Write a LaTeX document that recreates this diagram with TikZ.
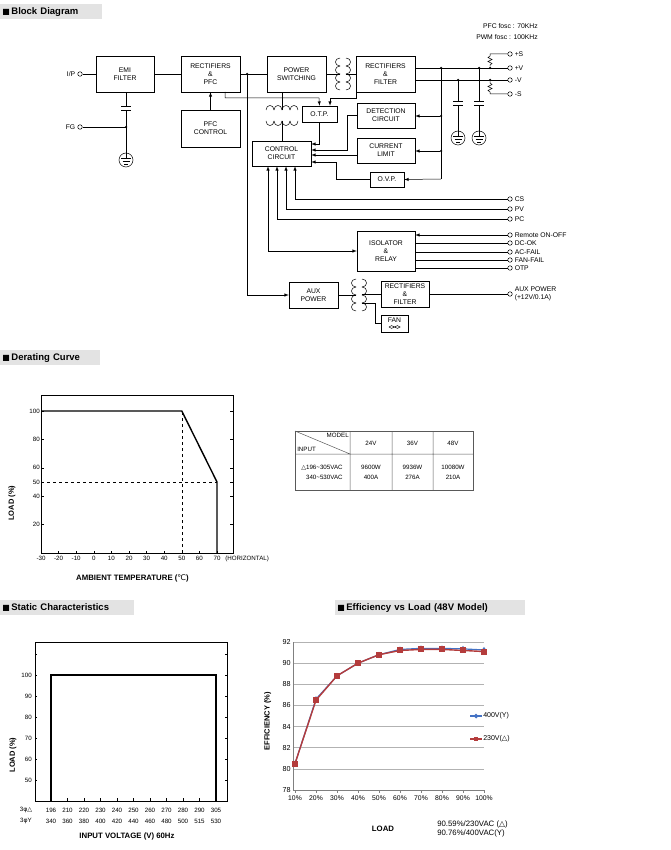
\documentclass[tikz,border=0pt]{standalone}
\usepackage{fontspec}
\setmainfont{Liberation Sans}
\newfontfamily\symf{DejaVu Sans}
\usepackage{tikz}
\usetikzlibrary{positioning, shapes.geometric, plotmarks}
\definecolor{effblue}{RGB}{68,114,196}
\definecolor{effred}{RGB}{180,60,60}

% coils of a transformer: x, y, number of turns, side
\newcommand\coilv[4]{\foreach \k in {1,...,#3}{\draw (#1,#2+8*\k-8) .. controls +(#4*6,0) and +(#4*6,0) .. (#1,#2+8*\k);}}
\newcommand\coilh[4]{\foreach \k in {1,...,#3}{\draw (#1+8*\k-8,#2) .. controls +(0,#4*6) and +(0,#4*6) .. (#1+8*\k,#2);}}
% earth in a circle
\newcommand\earth[2]{\draw (#1,#2) circle (7pt); \draw (#1,#2-7) -- (#1,#2-2) (#1-5,#2-2) -- (#1+5,#2-2) (#1-3.5,#2+1) -- (#1+3.5,#2+1) (#1-2,#2+4) -- (#1+2,#2+4);}
% capacitor on a vertical wire
\newcommand\capv[2]{\draw[fill=white,draw=white] (#1-5,#2-2) rectangle (#1+5,#2+2); \draw (#1-5,#2-2) -- (#1+5,#2-2) (#1-5,#2+2) -- (#1+5,#2+2);}

\begin{document}
\begin{tikzpicture}[x=1pt, y=-1pt, line width = 0.5pt, >=latex,
                    blk/.style = {draw, align = center, inner sep = 0pt, font = \fontsize{6.8}{8}\selectfont},
                    term/.style = {circle, draw, fill = white, inner sep = 0pt, minimum size = 4.5pt},
                    jdot/.style = {circle, fill = black, inner sep = 0pt, minimum size = 2.5pt},
                    lbl/.style = {font = \fontsize{6.8}{7.8}\selectfont, inner sep = 1pt},
                    tick/.style = {font = \fontsize{6.2}{7}\selectfont, inner sep = 1pt},
                    hdr/.style = {fill = gray!22, anchor = north west, inner sep = 1.5pt, font = \fontsize{9.5}{11}\selectfont\bfseries, minimum height = 15pt}]
  \useasboundingbox (0,0) rectangle (670,850);

  % headers
  \node [hdr, minimum width = 102pt, text width = 98pt] (hBlock) at (0,4) {{\symf\fontsize{8}{9}\selectfont ■}\,Block Diagram};
  \node [hdr, minimum width = 100pt, text width = 96pt] (hDerate) at (0,350) {{\symf\fontsize{8}{9}\selectfont ■}\,Derating Curve};
  \node [hdr, minimum width = 134pt, text width = 130pt] (hStatic) at (0,600) {{\symf\fontsize{8}{9}\selectfont ■}\,Static Characteristics};
  \node [hdr, minimum width = 190pt, text width = 186pt] (hEff) at (335,600) {{\symf\fontsize{8}{9}\selectfont ■}\,Efficiency vs Load (48V Model)};

  % ---------------- block diagram ----------------
  \node [lbl, anchor = east] (fosc1) at (539,26) {PFC fosc : 70KHz};
  \node [lbl, anchor = east] (fosc2) at (539,37) {PWM fosc : 100KHz};

  \node [blk, minimum width = 58pt, minimum height = 36pt] (emi) at (125,74) {EMI\\FILTER};
  \node [blk, minimum width = 59pt, minimum height = 36pt] (rpfc) at (210.5,74) {RECTIFIERS\\\&\\PFC};
  \node [blk, minimum width = 59pt, minimum height = 37pt] (pfcc) at (210.5,128.5) {PFC\\CONTROL};
  \node [blk, minimum width = 59pt, minimum height = 36pt] (psw) at (296.5,74) {POWER\\SWITCHING};
  \node [blk, minimum width = 59pt, minimum height = 36pt] (rf1) at (385.5,74) {RECTIFIERS\\\&\\FILTER};
  \node [blk, minimum width = 35pt, minimum height = 16pt] (otp) at (319.5,114) {O.T.P.};
  \node [blk, minimum width = 58pt, minimum height = 25pt] (det) at (386,115.5) {DETECTION\\CIRCUIT};
  \node [blk, minimum width = 59pt, minimum height = 25pt] (ctrl) at (281.5,153.5) {CONTROL\\CIRCUIT};
  \node [blk, minimum width = 58pt, minimum height = 25pt] (clim) at (386,150.5) {CURRENT\\LIMIT};
  \node [blk, minimum width = 34pt, minimum height = 15pt] (ovp) at (387,179.5) {O.V.P.};
  \node [blk, minimum width = 58pt, minimum height = 40pt] (iso) at (386,251) {ISOLATOR\\\&\\RELAY};
  \node [blk, minimum width = 49pt, minimum height = 26pt] (aux) at (313.5,295) {AUX\\POWER};
  \node [blk, minimum width = 48pt, minimum height = 26pt] (rf2) at (405,294) {RECTIFIERS\\\&\\FILTER};
  \node [blk, minimum width = 27pt, minimum height = 17pt, text depth = 7pt] (fan) at (394.5,323.5) {FAN};
  \draw (389,327) .. controls (392,322) and (397,332) .. (400,327) .. controls (397,322) and (392,332) .. (389,327);

  % terminals
  \node [term] (tIP) at (80,74) {};
  \node [lbl, left = 1pt of tIP] {I/P};
  \node [term] (tFG) at (80,127) {};
  \node [lbl, left = 1pt of tFG] {FG};
  \foreach \nm/\yy/\tx in {tSp/54/+S, tVp/68/+V, tVm/80/-V, tSm/94/-S,
                           tCS/199/CS, tPV/209/PV, tPC/219/PC,
                           tRem/235/Remote ON-OFF, tDC/243/DC-OK, tAC/252/AC-FAIL, tFan/260/FAN-FAIL, tOTP/268/OTP}
    {\node [term] (\nm) at (510,\yy) {};
     \node [lbl, right = 1pt of \nm] {\tx};}
  \node [term] (tAux) at (510,294) {};
  \node [lbl, right = 1pt of tAux, align = left] {AUX POWER\\(+12V/0.1A)};

  % input side
  \draw (tIP) -- (emi);
  \draw (emi) -- (rpfc);
  \node [jdot] (jIn) at (247,74) {};
  \draw (rpfc) -- (psw);
  \draw [<-] (rpfc) -- (pfcc);
  \coordinate (cEmi) at (126,127);
  \node [jdot] at (cEmi) {};
  \draw (emi.south -| cEmi) -- (cEmi) -- (tFG);
  \capv{126}{108}
  \draw (cEmi) -- (126,153);
  \earth{126}{160}

  % power stage
  \draw (psw.east) -- (340,74);
  \coilv{340}{58}{4}{-1}
  \coilv{346}{58}{4}{1}
  \draw (346,74) -- (rf1.west);
  \coilh{266}{110}{4}{-1}
  \coilh{266}{121}{4}{1}
  \draw (psw.south -| 282,0) -- (282,110);
  \draw (282,121) -- (ctrl.north -| 282,0);

  % outputs
  \draw (rf1.east |- tVp) -- (tVp);
  \draw (rf1.east |- tVm) -- (tVm);
  \node [jdot] (jBusT) at (441,68) {};
  \node [jdot] (jDet) at (441,116) {};
  \node [jdot] (jLim) at (441,151) {};
  \coordinate (cBusB) at (441,179);
  \draw (jBusT) -- (cBusB);
  \node [jdot] (jC1) at (458,80) {};
  \node [jdot] (jC2) at (479,68) {};
  \draw (jC1) -- (458,131);
  \draw (jC2) -- (479,131);
  \capv{458}{103}
  \capv{479}{103}
  \earth{458}{138}
  \earth{479}{138}
  \node [jdot] (jSp) at (490,68) {};
  \node [jdot] (jSm) at (490,80) {};
  \draw (tSp) -| (490,56) -- (488,57.5) -- (492,59.5) -- (488,61.5) -- (492,63.5) -- (490,65) -- (jSp);
  \draw (tSm) -| (490,92) -- (488,90.5) -- (492,88.5) -- (488,86.5) -- (492,84.5) -- (490,83) -- (jSm);

  % feedback
  \draw [->] (jDet) -- (det.east |- jDet);
  \draw [->] (jLim) -- (clim.east |- jLim);
  \draw [->] (cBusB) -- (ovp.east);
  \draw [->] (225,92) |- (319,98) -- (otp.north);
  \draw [->] (rf1.south west) |- (330,98) -- (otp.north -| 330,0);
  \draw [->] (otp.south) |- (ctrl.east |- 0,144);
  \draw [->] (det.west) -| (347,150) -- (ctrl.east |- 0,150);
  \draw [->] (clim.west |- 0,155) -- (ctrl.east |- 0,155);
  \draw [->] (ovp.west) -| (336,162) -- (ctrl.east |- 0,162);

  % signals
  \draw [->] (tCS) -| (ctrl.south -| 295,0);
  \draw [->] (tPV) -| (ctrl.south -| 286,0);
  \draw [->] (tPC) -| (ctrl.south -| 277,0);
  \draw [<->] (ctrl.south -| 268,0) |- (iso.west |- 0,251);
  \draw [->] (tRem) -- (iso.east |- tRem);
  \foreach \nm in {tDC, tAC, tFan, tOTP}
    \draw (iso.east |- \nm) -- (\nm);

  % auxiliary supply
  \draw [->] (jIn) |- (aux.west);
  \draw (aux.east) -- (356,295);
  \coilv{356}{279}{4}{-1}
  \coilv{362}{279}{4}{1}
  \draw (362,294) -- (rf2.west);
  \draw (362,303) -- (375,303) |- (fan.west);
  \draw (rf2.east) -- (tAux);

  % ---------------- derating curve ----------------
  \begin{scope}[shift = {(41,553)}, x = 1.76pt, y = 1.42pt]
    \draw (0,0) rectangle (109,111);
    \foreach \v in {20,40,50,60,80,100}
      {\draw (0,\v) -- (1.5,\v) (109,\v) -- (107.5,\v);
       \node [tick, anchor = east] at (0,\v) {\v};}
    \foreach \t in {-30,-20,...,70}
      {\draw (\t+30,0) -- (\t+30,1.5);
       \node [tick, anchor = north] at (\t+30,-1) {\t};}
    \draw [dashed, line width = 0.4pt] (80,0) -- (80,100) (0,50) -- (100,50);
    \draw [line width = 1.4pt] (0,100) -- (80,100) -- (100,50) -- (100,0);
    \node [tick, anchor = north west] at (104,-1) {(HORIZONTAL)};
    \node [lbl, rotate = 90, font = \fontsize{7.5}{8.5}\selectfont\bfseries] at (-16.5,35) {LOAD (\%)};
    \node [lbl, font = \fontsize{7.8}{9}\selectfont\bfseries] at (52,-17.6) {AMBIENT TEMPERATURE ({\symf\mdseries ℃})};
  \end{scope}

  % table
  \draw [line width = 0.6pt, gray!70!black] (295,431) rectangle (473,490);
  \draw [gray!70!black] (295,454) -- (473,454) (350,431) -- (350,490) (392,431) -- (392,490) (433,431) -- (433,490) (295,431) -- (350,454);
  \node [tick, anchor = north east] (tbModel) at (350,432) {MODEL};
  \node [tick, anchor = south west] (tbInput) at (296,453) {INPUT};
  \node [tick, align = right] (tbIn) at (322,472) {{\symf △}196\textasciitilde305VAC\\[3pt]340\textasciitilde530VAC};
  \foreach \cx/\v/\w/\a in {371/24V/9600W/400A, 412.5/36V/9936W/276A, 453/48V/10080W/210A}
    {\node [tick] at (\cx,443) {\v};
     \node [tick, align = center] at (\cx,472) {\w\\[3pt]\a};}

  % ---------------- static characteristics ----------------
  \draw (35,642) rectangle (227,801);
  \draw [line width = 1.4pt] (51,801) -- (51,675) -- (216,675) -- (216,801);
  \foreach \v [count = \i from 0] in {100,90,80,70,60,50}
    {\draw (35,675+21*\i) -- (37,675+21*\i) (227,675+21*\i) -- (225,675+21*\i);
     \node [tick, anchor = east] at (33,675+21*\i) {\v};}
  \draw (35,654) -- (37,654) (227,654) -- (225,654);
  \foreach \a/\b [count = \i from 0] in {196/340,210/360,220/380,230/400,240/420,250/440,260/460,270/480,280/500,290/515,305/530}
    {\draw (51+16.5*\i,801) -- (51+16.5*\i,798);
     \node [tick] at (51+16.5*\i,810) {\a};
     \node [tick] at (51+16.5*\i,821) {\b};}
  \node [tick] (ph1) at (26,810) {3{\symf φ△}};
  \node [tick] (ph2) at (26,821) {3{\symf φ}Y};
  \node [lbl, rotate = 90, font = \fontsize{7.5}{8.5}\selectfont\bfseries] at (13,755) {LOAD (\%)};
  \node [lbl, font = \fontsize{7.8}{9}\selectfont\bfseries] at (127,836) {INPUT VOLTAGE (V) 60Hz};

  % ---------------- efficiency ----------------
  \begin{scope}[shift = {(274,790)}, x = 21pt, y = 10.57pt]
    \foreach \v in {80,82,...,92}
      \draw [gray!60, line width = 0.6pt] (0.9,\v-78) -- (10,\v-78);
    \foreach \v in {78,80,...,92}
      \node [tick, font = \fontsize{7.2}{8}\selectfont, anchor = east] at (0.85,\v-78) {\v};
    \draw [gray] (0.9,0) -- (0.9,14) (0.9,0) -- (10,0);
    \foreach \i in {1,...,10}
      {\draw [gray] (\i,0) -- (\i,-0.3);
       \node [tick, font = \fontsize{6.8}{7.5}\selectfont, anchor = north] at (\i,-0.4) {\i0\%};}
    \draw [effblue, line width = 1.2pt, mark = diamond*, mark size = 2pt] plot coordinates
      {(1,2.5) (2,8.6) (3,10.8) (4,12) (5,12.8) (6,13.3) (7,13.4) (8,13.4) (9,13.35) (10,13.25)};
    \draw [effred, line width = 1.4pt, mark = square*, mark size = 2.3pt, mark options = {fill = effred}] plot coordinates
      {(1,2.5) (2,8.5) (3,10.8) (4,12) (5,12.8) (6,13.2) (7,13.3) (8,13.3) (9,13.2) (10,13.1)};
    \node [lbl, rotate = 90, font = \fontsize{7.5}{8.5}\selectfont\bfseries] at (-0.3,6.5) {EFFICIENCY (\%)};
  \end{scope}
  \draw [effblue, line width = 1.2pt] (470,716) -- (482,716);
  \node [effblue, diamond, fill, inner sep = 1.3pt] (mkBlue) at (476,716) {};
  \node [tick, font = \fontsize{7}{8}\selectfont, anchor = west] (lgBlue) at (482,716) {400V(Y)};
  \draw [effred, line width = 1.4pt] (470,739) -- (482,739);
  \node [effred, fill, inner sep = 2pt] (mkRed) at (476,739) {};
  \node [tick, font = \fontsize{7}{8}\selectfont, anchor = west] (lgRed) at (482,739) {230V({\symf △})};
  \node [lbl, font = \fontsize{7.8}{9}\selectfont\bfseries] (effLoad) at (383,829) {LOAD};
  \node [lbl, font = \fontsize{7.8}{9}\selectfont, anchor = west, align = left] (effNote) at (436,829) {90.59\%/230VAC ({\symf △})\\90.76\%/400VAC(Y)};
\end{tikzpicture}
\end{document}
